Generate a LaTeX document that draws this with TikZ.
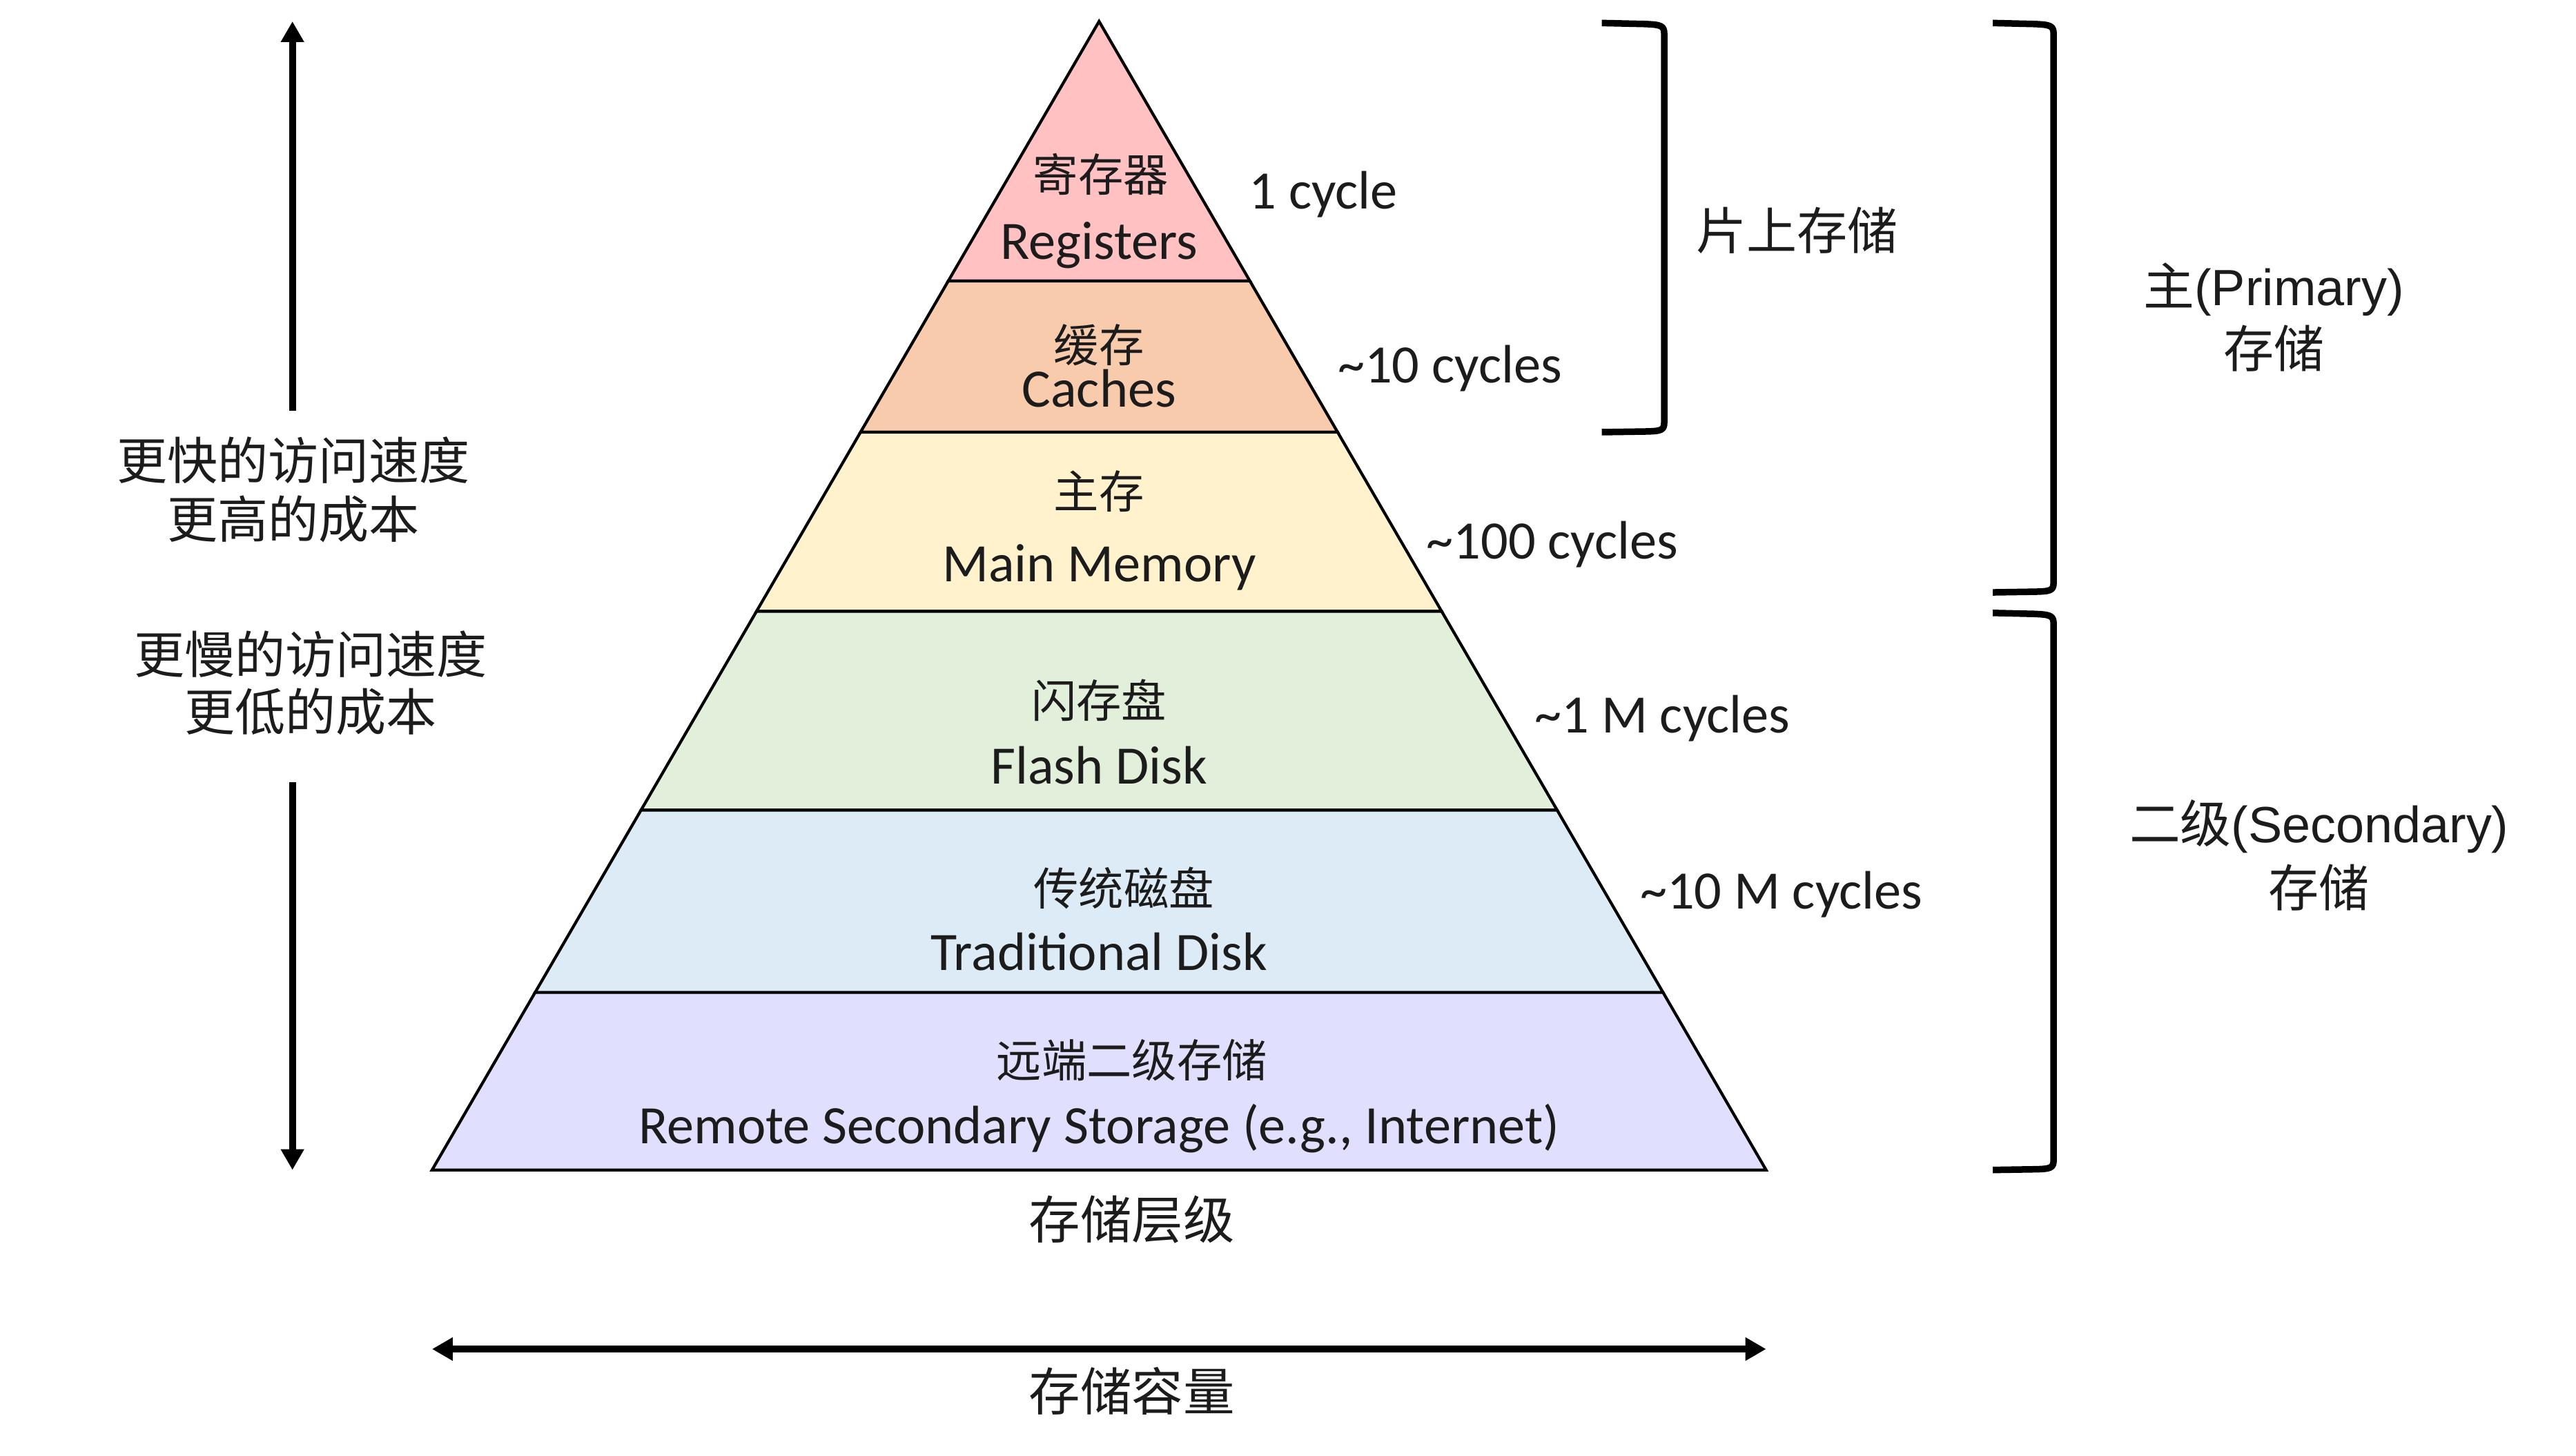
\documentclass[tikz,border=0pt]{standalone}
\usepackage{fontspec}
\setmainfont{Carlito}
\newfontfamily\cjk{Noto Sans CJK SC}
\newfontfamily\arialf{Liberation Sans}
\usetikzlibrary{arrows.meta}
\definecolor{cReg}{RGB}{255,193,193}
\definecolor{cCache}{RGB}{248,203,173}
\definecolor{cMain}{RGB}{255,242,204}
\definecolor{cFlash}{RGB}{226,239,218}
\definecolor{cTrad}{RGB}{221,235,247}
\definecolor{cRemote}{RGB}{224,224,254}
\definecolor{txt}{RGB}{28,28,28}
\begin{document}
\begin{tikzpicture}[x=0.0238cm,y=-0.0238cm,
  layer/.style={draw=black, line width=0.042cm, line join=miter},
  lat/.style={font=\fontsize{22.3}{27}\selectfont, anchor=base, inner sep=0, text=txt},
  cjkin/.style={font=\cjk\fontsize{18.6}{22}\selectfont, inner sep=0, text=txt},
  cjkout/.style={font=\cjk\fontsize{20.8}{25}\selectfont, inner sep=0, text=txt},
  arl/.style={font=\arialf\fontsize{21}{25}\selectfont, inner sep=0, anchor=base, text=txt},
  brk/.style={line width=0.095cm, line cap=butt, line join=round},
  arr/.style={line width=0.1cm, -{Triangle[width=0.32cm,length=0.30cm]}},
  darr/.style={line width=0.1cm, {Triangle[width=0.32cm,length=0.30cm]}-{Triangle[width=0.32cm,length=0.30cm]}}
]
\useasboundingbox (0,0) rectangle (1568,886);

% pyramid corners
\coordinate (apex) at (669,13);
\coordinate (l1) at (577.2,171); \coordinate (r1) at (760.8,171);
\coordinate (l2) at (523.8,263); \coordinate (r2) at (814.2,263);
\coordinate (l3) at (460.5,372); \coordinate (r3) at (877.5,372);
\coordinate (l4) at (390.2,493); \coordinate (r4) at (947.8,493);
\coordinate (l5) at (325.7,604); \coordinate (r5) at (1012.3,604);
\coordinate (l6) at (263,712);   \coordinate (r6) at (1075,712);

\filldraw[layer, fill=cReg]    (apex) -- (r1) -- (l1) -- cycle;
\filldraw[layer, fill=cCache]  (l1) -- (r1) -- (r2) -- (l2) -- cycle;
\filldraw[layer, fill=cMain]   (l2) -- (r2) -- (r3) -- (l3) -- cycle;
\filldraw[layer, fill=cFlash]  (l3) -- (r3) -- (r4) -- (l4) -- cycle;
\filldraw[layer, fill=cTrad]   (l4) -- (r4) -- (r5) -- (l5) -- cycle;
\filldraw[layer, fill=cRemote] (l5) -- (r5) -- (r6) -- (l6) -- cycle;

% layer labels
\node[cjkin] (regzh) at (670,106) {寄存器};
\node[lat] (regen) at (669,157.6) {Registers};
\node[cjkin] (cachezh) at (669,210) {缓存};
\node[lat] (cacheen) at (669,247.6) {Caches};
\node[cjkin] (mainzh) at (669,299) {主存};
\node[lat] (mainen) at (669,353.8) {Main Memory};
\node[cjkin] (flashzh) at (669,426) {闪存盘};
\node[lat] (flashen) at (669,477) {Flash Disk};
\node[cjkin] (tradzh) at (684,540.5) {传统磁盘};
\node[lat] (traden) at (669,590.5) {Traditional Disk};
\node[cjkin] (remzh) at (689,645) {远端二级存储};
\node[lat] (remen) at (669,696) {Remote Secondary Storage (e.g., Internet)};

% latency labels
\node[lat, anchor=base west] (lat1) at (760,127) {1 cycle};
\node[lat, anchor=base west] (lat2) at (814,233) {\textasciitilde 10 cycles};
\node[lat, anchor=base west] (lat3) at (868,340) {\textasciitilde 100 cycles};
\node[lat, anchor=base west] (lat4) at (934,446) {\textasciitilde 1 M cycles};
\node[lat, anchor=base west] (lat5) at (998,553) {\textasciitilde 10 M cycles};

% brackets
\coordinate (b1t) at (975,14);   \coordinate (b1b) at (975,263);
\coordinate (b2t) at (1213,14);  \coordinate (b2b) at (1213,360.5);
\coordinate (b3t) at (1213,373); \coordinate (b3b) at (1213,712);
\draw[brk] (b1t) -- (1001,14.6) .. controls (1011,15) and (1013,15.6) .. (1013,20.6)
  -- (1013,257) .. controls (1013,262) and (1011,262.4) .. (1001,262.6) -- (b1b);
\draw[brk] (b2t) -- (1238,14.6) .. controls (1248,15) and (1250,15.6) .. (1250,20.6)
  -- (1250,354.5) .. controls (1250,359.5) and (1248,359.9) .. (1238,360.1) -- (b2b);
\draw[brk] (b3t) -- (1238,373.6) .. controls (1248,374) and (1250,374.6) .. (1250,379.6)
  -- (1250,706) .. controls (1250,711) and (1248,711.4) .. (1238,711.6) -- (b3b);

\node[cjkout] (onchip) at (1094,140) {片上存储};
\node[arl] (prim1) at (1384,185.7) {{\cjk 主}(Primary)};
\node[cjkout] (prim2) at (1384,212) {存储};
\node[arl] (sec1) at (1411.6,512.8) {{\cjk 二级}(Secondary)};
\node[cjkout] (sec2) at (1411.6,540) {存储};

% left arrows and labels
\coordinate (upS) at (178,250); \coordinate (upE) at (178,13);
\coordinate (dnS) at (178,476); \coordinate (dnE) at (178,712);
\draw[arr] (upS) -- (upE);
\draw[arr] (dnS) -- (dnE);
\node[cjkout] (fast1) at (178.5,280) {更快的访问速度};
\node[cjkout] (fast2) at (178.5,316) {更高的成本};
\node[cjkout] (slow1) at (189,398) {更慢的访问速度};
\node[cjkout] (slow2) at (189,433) {更低的成本};

% bottom
\node[cjkout, font=\cjk\fontsize{21.2}{25}\selectfont] (hier) at (689,742) {存储层级};
\coordinate (hL) at (263,821); \coordinate (hR) at (1075,821);
\draw[darr] (hL) -- (hR);
\node[cjkout, font=\cjk\fontsize{21.2}{25}\selectfont] (cap) at (689,846.5) {存储容量};
\end{tikzpicture}
\end{document}
